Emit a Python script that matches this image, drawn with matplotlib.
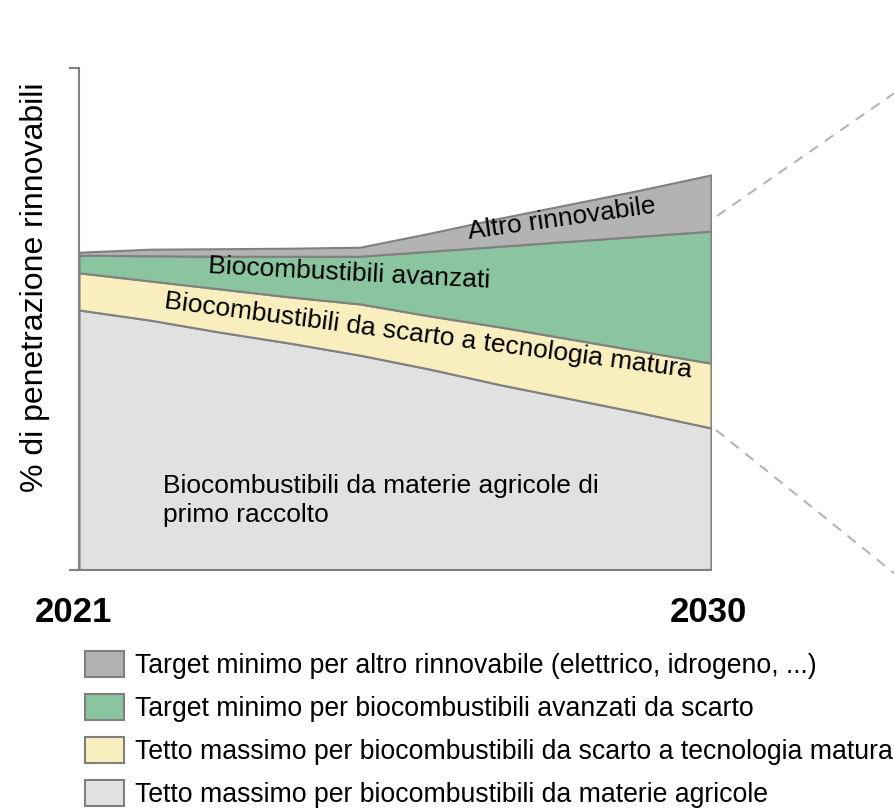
import matplotlib.pyplot as plt
import matplotlib.transforms as mtransforms
from matplotlib.patches import Patch
from matplotlib.lines import Line2D

plt.rcParams["font.family"] = ["Liberation Sans", "DejaVu Sans"]

years = [2021, 2022, 2023, 2024, 2025, 2026, 2027, 2028, 2029, 2030]
# quote (in % sulla scala dell'asse) per ogni strato, dal basso verso l'alto
agricole = [51.8, 49.8, 47.4, 45.2, 42.8, 40.0, 36.9, 34.1, 31.3, 28.3]
scarto_maturo = [7.4, 7.8, 8.6, 9.2, 10.2, 10.6, 11.5, 11.9, 12.3, 12.9]
avanzati = [3.5, 5.0, 6.5, 8.1, 9.5, 12.9, 16.1, 19.5, 22.9, 26.3]
altro = [0.6, 1.3, 1.5, 1.6, 1.8, 3.6, 5.6, 7.4, 9.2, 11.2]

colors = ["#e1e1e1", "#f9eebe", "#8bc5a0", "#b3b3b3"]
legend_labels = [
    "Tetto massimo per biocombustibili da materie agricole",
    "Tetto massimo per biocombustibili da scarto a tecnologia matura",
    "Target minimo per biocombustibili avanzati da scarto",
    "Target minimo per altro rinnovabile (elettrico, idrogeno, ...)",
]
edge = "#808080"

fig = plt.figure(figsize=(8.95, 8.08), dpi=100)
W, H = 895, 808
ax = fig.add_axes([79 / W, 1 - 570 / H, (711 - 79) / W, (570 - 68) / H])

ax.stackplot(years, agricole, scarto_maturo, avanzati, altro,
             colors=colors, edgecolor=edge, linewidth=1.5)
ax.set_xlim(2021, 2030)
ax.set_ylim(0, 100)

for s in ["top", "right"]:
    ax.spines[s].set_visible(False)
for s in ["left", "bottom"]:
    ax.spines[s].set_color(edge)
    ax.spines[s].set_linewidth(1.5)

ax.set_yticks([0, 100])
ax.set_yticklabels([])
ax.tick_params(axis="y", direction="out", length=7, width=1.5, color=edge)
ax.set_xticks([2021, 2030])
ax.set_xticklabels(["2021", "2030"], fontsize=25, fontweight="bold")
ax.tick_params(axis="x", length=0, pad=19)
# piccolo spostamento a sinistra delle etichette degli anni
for lab, dx in zip(ax.get_xticklabels(), [-6, -3]):
    lab.set_transform(lab.get_transform() +
                      mtransforms.ScaledTranslation(dx / 100, 0, fig.dpi_scale_trans))

fig.text(35 / W, 1 - 287 / H, "% di penetrazione rinnovabili",
         rotation=90, ha="center", va="center", fontsize=23)

# etichette dentro le aree
ax.text(2024.85, 59.0, "Biocombustibili avanzati", fontsize=19,
        rotation=-3, rotation_mode="anchor", ha="center", va="center")
ax.text(2025.97, 46.6, "Biocombustibili da scarto a tecnologia matura",
        fontsize=19, rotation=-7.5, rotation_mode="anchor",
        ha="center", va="center")
ax.text(2027.88, 69.9, "Altro rinnovabile", fontsize=19,
        rotation=8, rotation_mode="anchor", ha="center", va="center")
ax.text(2022.2, 13.9, "Biocombustibili da materie agricole di\nprimo raccolto",
        fontsize=19, ha="left", va="center", linespacing=1.25)

# linee tratteggiate di zoom verso destra
for (x0, y0), (x1, y1) in [((717, 216), (906, 85)), ((716, 430), (920, 594))]:
    fig.add_artist(Line2D([x0 / W, x1 / W], [1 - y0 / H, 1 - y1 / H],
                          transform=fig.transFigure, color="#b5b5b5",
                          linewidth=1.5, linestyle=(0, (5, 4))))

handles = [Patch(facecolor=c, edgecolor=edge, linewidth=1.5) for c in colors]
fig.legend(handles[::-1], legend_labels[::-1], loc="upper left",
           bbox_to_anchor=(85 / W, 1 - 651 / H), frameon=False, fontsize=19.2,
           handlelength=1.46, handleheight=1.15, handletextpad=0.4,
           labelspacing=0.55, borderpad=0, borderaxespad=0)

fig.savefig("out.png", dpi=100)
